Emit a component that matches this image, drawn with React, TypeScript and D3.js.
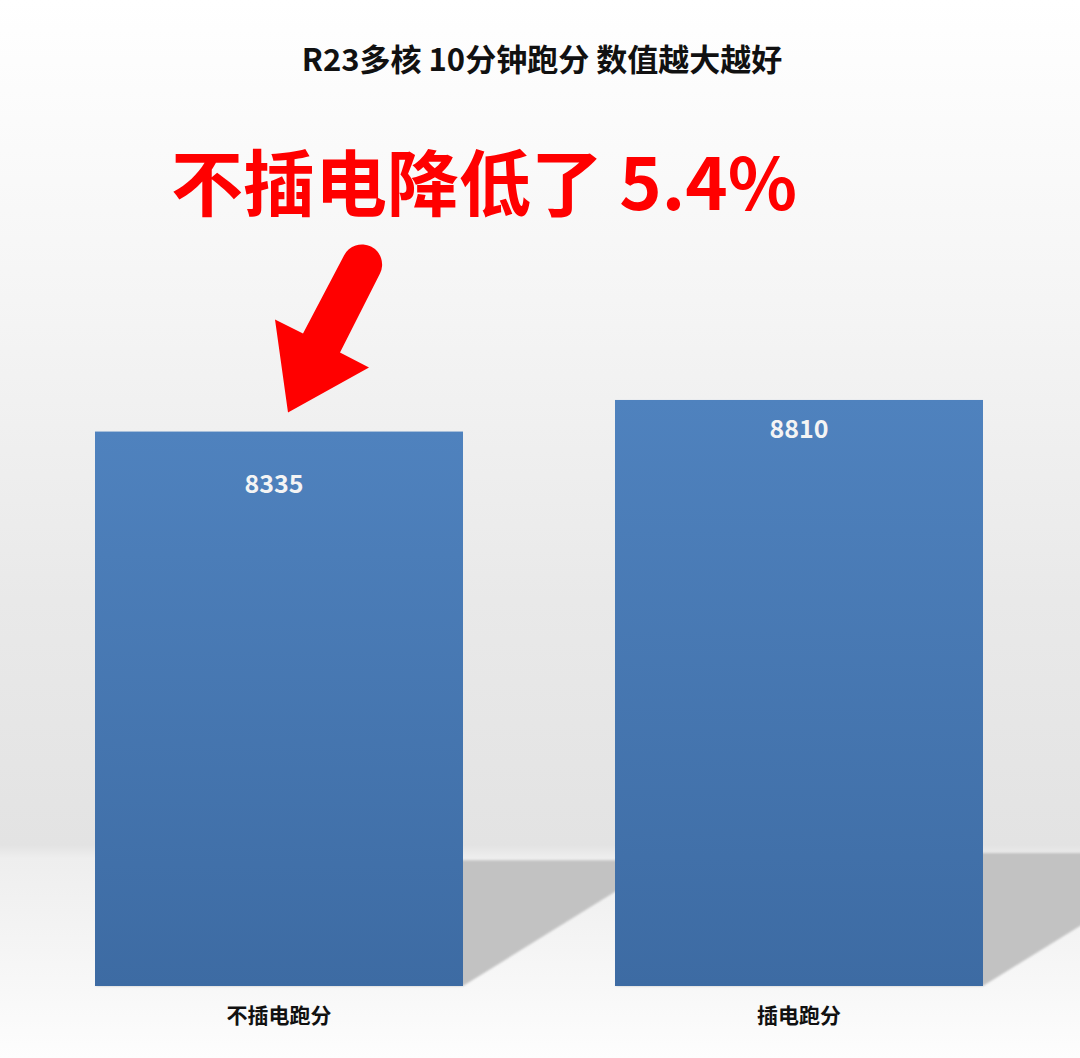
import { useEffect } from "react";
import * as d3 from "d3";

// chart data
const categories = ["不插电跑分", "插电跑分"];
const scores = [8335, 8810];
const chartTitle = "R23多核 10分钟跑分 数值越大越好";
const callout = "不插电降低了 5.4%";

const W = 1080;
const H = 1058;
const FONT = "'Noto Sans CJK SC', 'Noto Sans', sans-serif";

// value label distance below bar top (as in the original)
const labelOffsets = [50, 27];

export default function App() {
    useEffect(() => {
        document.body.style.margin = "0";
    }, []);

    // band scale for the two bars
    const x = d3
        .scaleBand<string>()
        .domain(categories)
        .range([95, 983])
        .paddingInner(0.2923)
        .paddingOuter(0);

    const floorY = 986;
    const y = d3.scaleLinear().domain([0, 10000]).range([floorY, floorY - 665.2]);
    const bw = x.bandwidth();

    // shadow parallelogram behind each bar
    const shadowPath = (cat: string, v: number) => {
        const x0 = x(cat)!;
        const x1 = x0 + bw;
        const h = (floorY - y(v)) * 0.227;
        const dx = h / 0.62;
        return `M${x0},${floorY}L${x1},${floorY}L${x1 + dx},${floorY - h}L${x0 + dx},${floorY - h}Z`;
    };

    // red arrow pointing at the first bar
    const tipX = x(categories[0])! + bw / 2 + 9;
    const tipY = y(scores[0]) - 19;
    const pt = (dx: number, dy: number) => `${tipX + dx},${tipY + dy}`;
    const arrow =
        `M${pt(0, 0)}L${pt(-13, -93)}L${pt(15, -79)}L${pt(56, -157)}` +
        `A20,20 0 0 1 ${pt(92, -139)}L${pt(52, -60)}L${pt(81, -45)}Z`;

    return (
        <svg width={W} height={H} style={{ display: "block" }}>
            <defs>
                <linearGradient id="bg" x1="0" y1="0" x2="0" y2={H} gradientUnits="userSpaceOnUse">
                    <stop offset={0} stopColor="#ffffff" />
                    <stop offset={300 / H} stopColor="#f5f5f5" />
                    <stop offset={600 / H} stopColor="#e9e9e9" />
                    <stop offset={845 / H} stopColor="#e3e3e3" />
                    <stop offset={858 / H} stopColor="#eeeeee" />
                    <stop offset={1} stopColor="#fdfdfd" />
                </linearGradient>
                <linearGradient id="bar" x1="0" y1="0" x2="0" y2="1">
                    <stop offset="0%" stopColor="#4f82be" />
                    <stop offset="100%" stopColor="#3d6ba3" />
                </linearGradient>
                <filter id="soft" x="-10%" y="-10%" width="120%" height="120%">
                    <feGaussianBlur stdDeviation="1.2" />
                </filter>
            </defs>

            <rect width={W} height={H} fill="url(#bg)" />

            <text
                x={542}
                y={71}
                textAnchor="middle"
                fontFamily={FONT}
                fontWeight={700}
                fontSize={31}
                fill="#111"
            >
                {chartTitle}
            </text>

            {/* shadows */}
            {categories.map((c, i) => (
                <path key={c} d={shadowPath(c, scores[i])} fill="#c2c2c2" filter="url(#soft)" />
            ))}

            {/* bars */}
            {categories.map((c, i) => (
                <rect
                    key={c}
                    x={x(c)}
                    y={y(scores[i])}
                    width={bw}
                    height={floorY - y(scores[i])}
                    fill="url(#bar)"
                />
            ))}

            {/* value labels */}
            {categories.map((c, i) => (
                <text
                    key={c}
                    x={x(c)! + bw / 2 - (i === 0 ? 5 : 0)}
                    y={y(scores[i]) + labelOffsets[i]}
                    dominantBaseline="central"
                    textAnchor="middle"
                    fontFamily={FONT}
                    fontWeight={700}
                    fontSize={25}
                    fill="#f4f4f4"
                >
                    {scores[i]}
                </text>
            ))}

            {/* category labels */}
            {categories.map((c) => (
                <text
                    key={c}
                    x={x(c)! + bw / 2}
                    y={1014}
                    dominantBaseline="central"
                    textAnchor="middle"
                    fontFamily={FONT}
                    fontWeight={700}
                    fontSize={21}
                    fill="#111"
                >
                    {c}
                </text>
            ))}

            {/* callout */}
            <text
                x={484}
                y={210}
                textAnchor="middle"
                fontFamily={FONT}
                fontWeight={700}
                fontSize={72}
                fill="#ff0000"
            >
                {callout}
            </text>
            <path d={arrow} fill="#ff0000" />
        </svg>
    );
}
